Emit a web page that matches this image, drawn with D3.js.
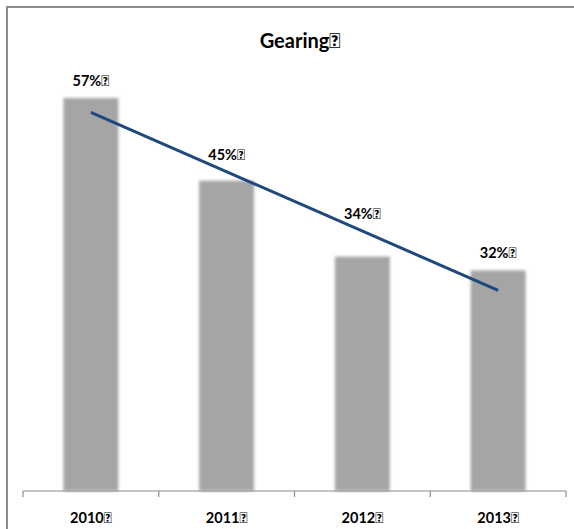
<!DOCTYPE html>
<html>
<head>
<meta charset="utf-8">
<script src="https://cdn.jsdelivr.net/npm/d3@7"></script>
<style>
  html, body { margin: 0; background: #fff; overflow: hidden; }
  svg { display: block; }
  svg text { font-family: Lato, "Open Sans", sans-serif; font-weight: bold; fill: #000; }
</style>
</head>
<body>
<div class="chart"></div>
<script>
// Gearing by year, bars plus the linear trend line drawn over them
const years = ['2010', '2011', '2012', '2013'];
const gearing = [57, 45, 34, 32];
const barLabels = ['57%', '45%', '34%', '32%'];
// trend line end values (first and last year)
const trendYears = ['2010', '2013'];
const trendValues = [54.9, 29.1];
const title = 'Gearing';
const mark = '\uF0A0'; // the odd box glyph after each text

const width = 574, height = 529;

const svg = d3.select('.chart')
  .append('svg')
  .attr('width', width)
  .attr('height', height);

// soft edges on the bars
const defs = svg.append('defs');
defs.append('filter')
  .attr('id', 'soft')
  .attr('x', '-20%').attr('y', '-5%')
  .attr('width', '140%').attr('height', '110%')
  .append('feGaussianBlur')
  .attr('stdDeviation', 1.6);

// outer frame: only its top and left edges fall inside the picture
svg.append('path')
  .attr('d', `M7,${height} V7 H${width}`)
  .attr('fill', 'none')
  .attr('stroke', '#8c8c8c')
  .attr('stroke-width', 2);

const x = d3.scaleBand()
  .domain(years)
  .range([23, 566])
  .paddingInner(0.595)
  .paddingOuter(0.2975);

const y = d3.scaleLinear()
  .domain([0, 57])
  .range([491, 98]);

svg.append('text')
  .attr('x', 300)
  .attr('y', 48)
  .attr('text-anchor', 'middle')
  .attr('font-size', 20)
  .text(title + mark);

svg.selectAll('.bar')
  .data(gearing)
  .enter()
  .append('rect')
  .attr('class', 'bar')
  .attr('x', (d, i) => x(years[i]))
  .attr('y', d => y(d))
  .attr('width', x.bandwidth())
  .attr('height', d => y(0) - y(d))
  .attr('fill', '#a5a5a5')
  .attr('filter', 'url(#soft)');

// axis along the bottom with ticks between categories
const axisY = y(0);
const step = x.step();
const edges = d3.range(years.length + 1).map(i => 23 + i * step);
svg.append('line')
  .attr('x1', edges[0]).attr('x2', edges[edges.length - 1])
  .attr('y1', axisY).attr('y2', axisY)
  .attr('stroke', '#8c8c8c')
  .attr('stroke-width', 1.2);
svg.selectAll('.tick')
  .data(edges)
  .enter()
  .append('line')
  .attr('x1', d => d).attr('x2', d => d)
  .attr('y1', axisY).attr('y2', axisY + 6)
  .attr('stroke', '#8c8c8c')
  .attr('stroke-width', 1.2);

svg.selectAll('.xlabel')
  .data(years)
  .enter()
  .append('text')
  .attr('x', d => x(d) + x.bandwidth() / 2)
  .attr('y', 523)
  .attr('text-anchor', 'middle')
  .attr('font-size', 14.5)
  .text(d => d + mark);

// trend line
const trendLine = d3.line()
  .x((d, i) => x(trendYears[i]) + x.bandwidth() / 2)
  .y(d => y(d));
svg.append('path')
  .datum(trendValues)
  .attr('d', trendLine)
  .attr('fill', 'none')
  .attr('stroke', '#1f497d')
  .attr('stroke-width', 3);

// value labels sit above whichever is higher: bar top or trend line
const trendAt = d3.scaleLinear()
  .domain([0, years.length - 1])
  .range(trendValues);
svg.selectAll('.vlabel')
  .data(gearing)
  .enter()
  .append('text')
  .attr('x', (d, i) => x(years[i]) + x.bandwidth() / 2)
  .attr('y', (d, i) => Math.min(y(d), y(trendAt(i))) - 12)
  .attr('text-anchor', 'middle')
  .attr('font-size', 14.5)
  .text((d, i) => barLabels[i] + mark);
</script>
</body>
</html>
